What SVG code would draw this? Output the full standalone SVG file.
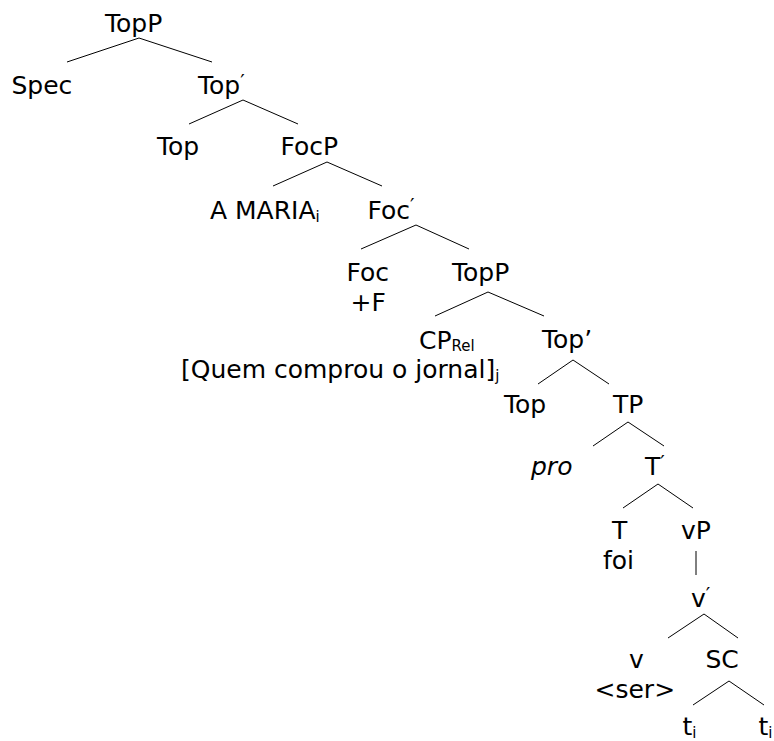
<svg xmlns="http://www.w3.org/2000/svg" width="774" height="741" viewBox="0 0 774 741">
<style>
text{font-family:"DejaVu Sans","Verdana","Liberation Sans",sans-serif;font-size:25px;fill:#000}
.sub{font-size:15px}
.pr{font-size:20px}
.it{font-style:italic}
.edge{stroke:#000;stroke-width:1;fill:none}
</style>
<rect width="774" height="741" fill="#fff"/>
<g id="connectors">
<path class="edge" d="M139,38 L67,62 M139,38 L212,62"/>
<path class="edge" d="M243,100 L189,124 M243,100 L298,124"/>
<path class="edge" d="M327,162 L273,186 M327,162 L382,186"/>
<path class="edge" d="M416,225 L361,249 M416,225 L469,249"/>
<path class="edge" d="M488,292 L435,316 M488,292 L544,316"/>
<path class="edge" d="M573,360 L538,384 M573,360 L609,384"/>
<path class="edge" d="M628,422 L593,446 M628,422 L664,446"/>
<path class="edge" d="M658,484 L623,508 M658,484 L693,508"/>
<path class="edge" d="M696,551 L696,575"/>
<path class="edge" d="M704,614 L668,638 M704,614 L738,638"/>
<path class="edge" d="M729,681 L693,705 M729,681 L764,705"/>
</g>
<g id="n-topP1"><text x="105" y="32">TopP</text></g>
<g id="n-spec"><text x="11.5" y="94">Spec</text></g>
<g id="n-topbar1"><text x="198" y="94">Top<tspan class="pr" dy="-6">′</tspan></text></g>
<g id="n-top1"><text x="157" y="155">Top</text></g>
<g id="n-focP"><text x="280.5" y="155">FocP</text></g>
<g id="n-amaria"><text x="210" y="219">A MARIA<tspan class="sub" dy="3">i</tspan></text></g>
<g id="n-focbar"><text x="367.5" y="219">Foc<tspan class="pr" dy="-7">′</tspan></text></g>
<g id="n-foc"><text x="346.5" y="281">Foc</text><text x="350.5" y="311">+F</text></g>
<g id="n-topP2"><text x="452" y="281">TopP</text></g>
<g id="n-cprel"><text x="419" y="349">CP<tspan class="sub" dy="2">Rel</tspan></text><text x="181" y="378">[Quem comprou o jornal]<tspan class="sub" dy="3">j</tspan></text></g>
<g id="n-topbar2"><text x="542" y="348">Top’</text></g>
<g id="n-top2"><text x="504" y="413">Top</text></g>
<g id="n-tp"><text x="613" y="413">TP</text></g>
<g id="n-pro"><text class="it" x="531" y="475">pro</text></g>
<g id="n-tbar"><text x="645" y="475">T<tspan class="pr" dy="-6">′</tspan></text></g>
<g id="n-t"><text x="612" y="539">T</text><text x="603" y="569">foi</text></g>
<g id="n-vp"><text x="681" y="539">vP</text></g>
<g id="n-vbar"><text x="691" y="607">v<tspan class="pr" dy="-6">′</tspan></text></g>
<g id="n-v"><text x="629" y="668">v</text><text x="594.5" y="698">&lt;ser&gt;</text></g>
<g id="n-sc"><text x="705.5" y="668">SC</text></g>
<g id="n-t1"><text x="682.5" y="735">t<tspan class="sub" dy="3">i</tspan></text></g>
<g id="n-t2"><text x="758.5" y="735">t<tspan class="sub" dy="3">i</tspan></text></g>
</svg>
